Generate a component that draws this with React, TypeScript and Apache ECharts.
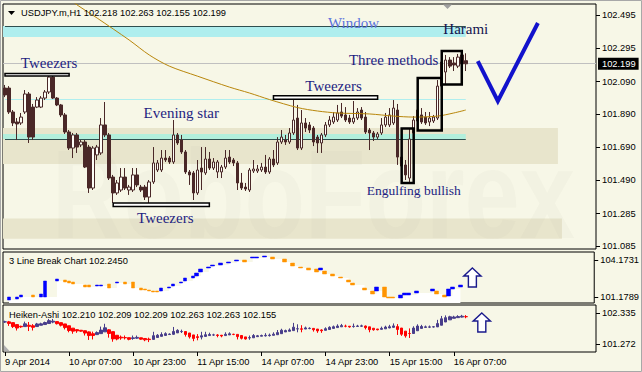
import React, { useEffect, useRef } from "react";
import * as echarts from "echarts";

const FONT = '"Liberation Sans", Arial, sans-serif';
const SERIF = '"Liberation Serif", "Times New Roman", serif';
const BG = "#f7f7e7";
const DARK = "#4a2828";

const headerMain = "USDJPY.m,H1 102.218 102.263 102.155 102.199";
const headerLB = "3 Line Break Chart 102.2450";
const headerHA = "Heiken-Ashi 102.210 102.209 102.209 102.263 102.263 102.155";

const N_SLOTS = 148;
const timeTickLabels = ["9 Apr 2014", "10 Apr 07:00", "10 Apr 23:00", "11 Apr 15:00", "14 Apr 07:00", "14 Apr 23:00", "15 Apr 15:00", "16 Apr 07:00"];
const priceTicks = [102.495, 102.295, 102.09, 101.89, 101.69, 101.49, 101.285, 101.085];
const lbTicks = [104.1731, 101.1789];
const haTicks = [102.335, 101.272];

// [open, close, low, high]
const ohlc = [
  [102.051, 102.009, 101.996, 102.07], [102.051, 101.905, 101.893, 102.063], [101.905, 101.838, 101.819, 101.917], [101.844, 101.832, 101.734, 101.868],
  [101.838, 101.874, 101.826, 101.899], [101.905, 102.015, 101.893, 102.039], [102.015, 101.752, 101.716, 102.027], [101.935, 101.752, 101.734, 101.954],
  [101.935, 101.978, 101.929, 101.996], [101.935, 101.99, 101.929, 102.002], [101.99, 102.027, 101.978, 102.039], [102.027, 102.118, 102.015, 102.131],
  [102.118, 101.99, 101.984, 102.131], [101.99, 101.948, 101.941, 101.996], [101.948, 101.887, 101.874, 101.954], [101.887, 101.783, 101.771, 101.899],
  [101.783, 101.685, 101.673, 101.795], [101.685, 101.765, 101.624, 101.777], [101.765, 101.691, 101.655, 101.777], [101.704, 101.722, 101.691, 101.734],
  [101.722, 101.569, 101.563, 101.734], [101.691, 101.441, 101.411, 101.704], [101.441, 101.685, 101.429, 101.697], [101.643, 101.691, 101.612, 101.704],
  [101.655, 101.826, 101.643, 101.868], [101.826, 101.765, 101.752, 101.966], [101.765, 101.502, 101.49, 101.777], [101.508, 101.411, 101.35, 101.521],
  [101.411, 101.472, 101.399, 101.49], [101.429, 101.508, 101.417, 101.563], [101.508, 101.441, 101.429, 101.563], [101.429, 101.447, 101.399, 101.46],
  [101.429, 101.521, 101.417, 101.563], [101.521, 101.46, 101.447, 101.563], [101.447, 101.429, 101.417, 101.46], [101.447, 101.386, 101.368, 101.46],
  [101.386, 101.478, 101.338, 101.49], [101.478, 101.594, 101.466, 101.691], [101.551, 101.594, 101.539, 101.612], [101.551, 101.624, 101.539, 101.673],
  [101.624, 101.612, 101.6, 101.673], [101.624, 101.6, 101.588, 101.636], [101.6, 101.765, 101.588, 101.856], [101.765, 101.716, 101.704, 101.777],
  [101.734, 101.661, 101.649, 101.765], [101.661, 101.539, 101.527, 101.673], [101.539, 101.521, 101.46, 101.551], [101.533, 101.411, 101.368, 101.545],
  [101.411, 101.551, 101.399, 101.612], [101.563, 101.539, 101.429, 101.691], [101.533, 101.618, 101.521, 101.691], [101.618, 101.563, 101.551, 101.661],
  [101.563, 101.6, 101.551, 101.624], [101.539, 101.6, 101.502, 101.612], [101.539, 101.569, 101.502, 101.582], [101.569, 101.624, 101.557, 101.673],
  [101.63, 101.6, 101.588, 101.673], [101.612, 101.594, 101.575, 101.624], [101.594, 101.472, 101.429, 101.606], [101.472, 101.441, 101.429, 101.533],
  [101.447, 101.435, 101.423, 101.472], [101.429, 101.551, 101.417, 101.563], [101.545, 101.557, 101.533, 101.612], [101.545, 101.557, 101.533, 101.582],
  [101.551, 101.569, 101.539, 101.594], [101.569, 101.539, 101.527, 101.643], [101.539, 101.618, 101.527, 101.63], [101.618, 101.582, 101.569, 101.673],
  [101.594, 101.722, 101.582, 101.752], [101.722, 101.752, 101.71, 101.795], [101.734, 101.722, 101.704, 101.765], [101.722, 101.777, 101.71, 101.807],
  [101.777, 101.856, 101.765, 101.996], [101.868, 101.685, 101.673, 101.948], [101.685, 101.838, 101.673, 101.917], [101.838, 101.807, 101.783, 101.868],
  [101.826, 101.795, 101.777, 101.844], [101.807, 101.722, 101.697, 101.819], [101.752, 101.716, 101.655, 101.765], [101.716, 101.765, 101.655, 101.777],
  [101.765, 101.826, 101.752, 101.844], [101.826, 101.856, 101.813, 101.88], [101.844, 101.874, 101.832, 101.905], [101.856, 101.899, 101.844, 101.948],
  [101.905, 101.88, 101.868, 101.96], [101.887, 101.856, 101.844, 101.935], [101.868, 101.844, 101.832, 101.887], [101.844, 101.868, 101.832, 101.972],
  [101.868, 101.905, 101.856, 101.929], [101.917, 101.868, 101.856, 101.935], [101.874, 101.783, 101.771, 101.905], [101.795, 101.777, 101.673, 101.807],
  [101.777, 101.752, 101.728, 101.789], [101.752, 101.771, 101.74, 101.783], [101.777, 101.826, 101.765, 101.868], [101.826, 101.874, 101.813, 101.899],
  [101.826, 101.887, 101.813, 101.929], [101.838, 101.929, 101.826, 101.978], [101.917, 101.63, 101.582, 101.954], [101.63, 101.575, 101.551, 101.673],
  [101.582, 101.521, 101.49, 101.612], [101.502, 101.74, 101.478, 101.807], [101.777, 101.856, 101.765, 101.88], [101.85, 101.917, 101.838, 101.948],
  [101.887, 101.844, 101.832, 101.929], [101.874, 101.838, 101.826, 101.905], [101.844, 101.868, 101.819, 101.905], [101.85, 101.874, 101.838, 101.887],
  [101.868, 102.063, 101.856, 102.1], [102.063, 102.21, 102.039, 102.234], [102.149, 102.222, 102.076, 102.253], [102.222, 102.185, 102.173, 102.24],
  [102.204, 102.192, 102.155, 102.24], [102.185, 102.24, 102.173, 102.259], [102.198, 102.253, 102.179, 102.271], [102.218, 102.199, 102.155, 102.263],
];

// moving average read at [bar index, price]
const maPoints = [
  [11, 102.7], [17, 102.576], [23, 102.478], [31, 102.344], [36, 102.253], [41, 102.185], [48, 102.124], [56, 102.057], [61, 102.021],
  [66, 101.981], [73, 101.932], [78, 101.911], [83, 101.899], [91, 101.893], [97, 101.88], [102, 101.874], [108, 101.88],
  [112, 101.899], [115, 101.917],
];

// 3 line break blocks: [bar index, open, close]
const lbBlocks = [
  [1, 100.937, 101.18], [3, 101.018, 101.18], [4, 101.18, 101.342], [7, 101.342, 101.18], [9, 101.18, 101.422], [10, 101.18, 102.474],
  [13, 102.474, 102.636], [15, 102.555, 102.393], [16, 102.474, 102.312], [17, 102.393, 102.231], [20, 102.151, 101.989], [21, 102.151, 101.989],
  [23, 102.07, 102.151], [24, 102.07, 102.151], [26, 102.231, 101.908], [28, 102.312, 102.393], [30, 102.393, 102.231], [32, 102.393, 101.908],
  [34, 101.908, 101.746], [35, 101.827, 101.746], [36, 101.746, 101.665], [37, 101.665, 101.584], [38, 101.665, 101.584], [39, 101.665, 101.908],
  [41, 101.908, 101.989], [42, 102.07, 102.231], [44, 102.312, 102.393], [45, 102.474, 102.717], [47, 102.717, 102.879], [48, 102.879, 103.121],
  [49, 103.202, 103.445], [51, 103.526, 103.607], [52, 103.688, 103.769], [54, 103.769, 103.93], [56, 103.93, 104.011], [58, 104.092, 104.173],
  [60, 104.173, 104.011], [62, 104.335, 104.416], [63, 104.335, 104.416], [65, 104.416, 104.497], [67, 104.416, 104.254], [70, 104.254, 104.011],
  [72, 103.93, 103.688], [74, 103.607, 103.526], [76, 103.526, 103.364], [78, 103.445, 103.202], [79, 103.364, 103.526], [80, 103.283, 103.04],
  [82, 103.04, 102.879], [84, 102.798, 102.717], [86, 102.555, 102.393], [87, 102.312, 102.151], [90, 101.908, 101.746], [92, 101.665, 101.422],
  [93, 101.665, 101.989], [95, 101.989, 101.18], [96, 101.18, 101.099], [97, 101.18, 101.099], [99, 101.099, 101.342], [100, 101.342, 101.503],
  [101, 101.342, 101.503], [103, 101.503, 101.665], [107, 101.665, 101.827], [108, 101.665, 101.422], [110, 101.342, 101.18], [111, 101.261, 101.827],
  [112, 101.827, 101.989], [114, 101.989, 102.151],
];

// horizontal zones: [kind, end bar, top price, bottom price]
const zones = [
  ["window", 115, 102.429, 102.362],
  ["support", 138, 101.807, 101.588],
  ["level", 115, 101.771, 101.74],
  ["support", 139, 101.255, 101.132],
];
// horizontal level lines: [kind, start bar, end bar, price]
const levelLines = [
  ["dark", 0, 115, 102.429],
  ["cyan", 0, 115, 101.982],
  ["dark", 0, 115, 101.74],
];
// tweezers boxes and pattern boxes: [start bar, end bar, top, bottom]
const tweezerBoxes = [
  [0, 16, 102.14, 102.124],
  [67, 93, 102.004, 101.983],
  [27, 51, 101.35, 101.328],
];
const patternBoxes = [
  [99, 102, 101.804, 101.472],
  [103, 109, 102.112, 101.792],
  [109, 114, 102.277, 102.073],
];
// text annotations: [text, bar, price]
const annotations = [
  ["Tweezers", 11, 102.204],
  ["Evening star", 44, 101.899],
  ["Tweezers", 40, 101.258],
  ["Tweezers", 82, 102.063],
  ["Window", 87, 102.448],
  ["Harami", 115, 102.411],
  ["Three methods", 97, 102.222],
  ["Engulfing bullish", 102, 101.423],
];
const checkMark = [[118, 102.216], [123, 101.972], [133, 102.448]];
const lbArrow = [117, 102.757];
const haArrow = [119, 102.009];

const zoneColor: Record<string, string> = { window: "#afeeee", support: "#e8e5cc", level: "#b2efdc" };
const lineColor: Record<string, string> = { dark: "#2f4f4f", cyan: "#afeeee" };
const textColor: Record<string, string> = { Window: "#5a73dc", Harami: "#141450" };
const textSize: Record<string, number> = { "Engulfing bullish": 13.5 };
const ARROW = "path://M8.5 0L17 8L12.5 8L12.5 19L4.5 19L4.5 8L0 8Z";

function buildOption() {
  const slots = Array.from({ length: N_SLOTS }, (_, i) => "b" + i);
  const lastClose = ohlc[ohlc.length - 1][1];

  const ha: number[][] = [];
  let pO = 0;
  let pC = 0;
  ohlc.forEach(([o, c, l, h], i) => {
    const hc = (o + c + l + h) / 4;
    const ho = i === 0 ? (o + c) / 2 : (pO + pC) / 2;
    ha.push([ho, hc, Math.min(l, ho, hc), Math.max(h, ho, hc)]);
    pO = ho;
    pC = hc;
  });

  const lbData: any[] = ohlc.map(() => "-");
  const lbWhite: any[] = ohlc.map(() => null);
  lbBlocks.forEach(([i, o, c]) => {
    lbData[i] = [o, c, Math.min(o, c), Math.max(o, c)];
    lbWhite[i] = Math.min(o, c);
  });

  const tickShown = (i: number) => i % 16 === 0 && i / 16 < timeTickLabels.length;

  const xBase = { type: "category", data: slots, boundaryGap: true };
  const yBase = (gridIndex: number, min: number, max: number, ticks: number[], digits: number) => ({
    gridIndex,
    type: "value",
    position: "right",
    min,
    max,
    splitLine: { show: false },
    axisLine: { show: false },
    axisTick: { show: true, customValues: ticks, length: 4, lineStyle: { color: "#000" } },
    axisLabel: {
      show: true,
      customValues: ticks,
      formatter: (v: number) => v.toFixed(digits),
      margin: 6,
      color: "#000",
      fontSize: 9.3,
      fontFamily: FONT,
    },
  });
  const gridBase = { left: 3, right: 46, show: true, backgroundColor: BG, borderColor: "#000", borderWidth: 1 };

  return {
    animation: false,
    backgroundColor: BG,
    grid: [
      { ...gridBase, top: 4, height: 245 },
      { ...gridBase, top: 252, height: 51 },
      { ...gridBase, top: 305, height: 47 },
    ],
    xAxis: [
      { ...xBase, gridIndex: 0, show: false },
      { ...xBase, gridIndex: 1, show: false },
      {
        ...xBase,
        gridIndex: 2,
        axisLine: { show: false },
        axisTick: { show: true, interval: tickShown, alignWithLabel: true, length: 4, lineStyle: { color: "#000" } },
        axisLabel: {
          interval: tickShown,
          formatter: (_v: string, i: number) => timeTickLabels[i / 16] ?? "",
          align: "left",
          margin: 5,
          color: "#000",
          fontSize: 9.3,
          fontFamily: FONT,
        },
      },
    ],
    yAxis: [
      yBase(0, 101.069, 102.564, priceTicks, 3),
      yBase(1, 100.694, 104.82, lbTicks, 4),
      yBase(2, 100.998, 102.609, haTicks, 3),
    ],
    series: [
      {
        type: "line",
        name: "ma",
        xAxisIndex: 0,
        yAxisIndex: 0,
        data: maPoints,
        smooth: 0.3,
        symbol: "none",
        z: 3,
        lineStyle: { color: "#b8860b", width: 1 },
        markArea: {
          silent: true,
          z: 1,
          label: { show: false },
          data: zones.map(([kind, end, top, bottom]) => [
            { yAxis: top, itemStyle: { color: zoneColor[kind as string] } },
            { xAxis: end, yAxis: bottom },
          ]),
        },
        markLine: {
          silent: true,
          z: 1.2,
          symbol: ["none", "none"],
          label: { show: false },
          data: levelLines.map(([kind, s, e, p]) => [
            { xAxis: s, yAxis: p, lineStyle: { color: lineColor[kind as string], width: 1, type: "solid" } },
            { xAxis: e, yAxis: p },
          ]),
        },
      },
      {
        type: "candlestick",
        name: "USDJPY",
        xAxisIndex: 0,
        yAxisIndex: 0,
        data: ohlc,
        barWidth: 3,
        z: 2,
        itemStyle: { color: "#fdfdf6", color0: DARK, borderColor: DARK, borderColor0: DARK, borderWidth: 1 },
        markArea: {
          silent: true,
          z: 4,
          label: { show: false },
          data: [
            ...tweezerBoxes.map(([s, e, t, b]) => [
              { xAxis: s, yAxis: t, itemStyle: { color: "#ffffff", borderColor: "#000", borderWidth: 1.5 } },
              { xAxis: e, yAxis: b },
            ]),
            ...patternBoxes.map(([s, e, t, b]) => [
              { xAxis: s, yAxis: t, itemStyle: { color: "rgba(0,0,0,0)", borderColor: "#000", borderWidth: 2.5 } },
              { xAxis: e, yAxis: b },
            ]),
          ],
        },
        markLine: {
          silent: true,
          z: 1.5,
          symbol: ["none", "none"],
          lineStyle: { color: "#c0c0c0", width: 1, type: "solid" },
          label: {
            show: true,
            position: "end",
            distance: 2,
            formatter: () => lastClose.toFixed(3),
            color: "#fff",
            backgroundColor: "#000",
            padding: [2, 3, 1, 4],
            fontSize: 9.3,
            fontFamily: FONT,
          },
          data: [{ yAxis: lastClose }],
        },
        markPoint: {
          silent: true,
          z: 5,
          data: annotations.map(([text, i, p]) => ({
            coord: [i, p],
            symbol: "rect",
            symbolSize: 1,
            itemStyle: { color: "rgba(0,0,0,0)" },
            label: {
              show: true,
              position: "inside",
              formatter: text as string,
              color: textColor[text as string] ?? "#1e1e82",
              fontSize: textSize[text as string] ?? 15,
              fontFamily: SERIF,
            },
          })),
        },
      },
      {
        type: "line",
        name: "check",
        xAxisIndex: 0,
        yAxisIndex: 0,
        data: checkMark,
        symbol: "none",
        z: 6,
        lineStyle: { color: "#1212cc", width: 4, join: "miter" },
      },
      {
        type: "line",
        name: "lbFill",
        xAxisIndex: 1,
        yAxisIndex: 1,
        data: lbWhite,
        step: "end",
        connectNulls: true,
        symbol: "none",
        z: 1,
        lineStyle: { width: 0, opacity: 0 },
        areaStyle: { color: "#ffffff", opacity: 1, origin: "start" },
      },
      {
        type: "candlestick",
        name: "3 Line Break",
        xAxisIndex: 1,
        yAxisIndex: 1,
        data: lbData,
        barWidth: 4,
        z: 2,
        itemStyle: { color: "#0000ff", color0: "#ff9400", borderColor: "#0000ff", borderColor0: "#ff9400", borderWidth: 0.5 },
        markPoint: {
          silent: true,
          data: [
            {
              coord: lbArrow,
              symbol: ARROW,
              symbolSize: [17, 19],
              itemStyle: { color: "#ffffff", borderColor: "#1a1a8c", borderWidth: 1.5 },
              label: { show: false },
            },
          ],
        },
      },
      {
        type: "candlestick",
        name: "Heiken-Ashi",
        xAxisIndex: 2,
        yAxisIndex: 2,
        data: ha,
        barWidth: 3,
        z: 2,
        itemStyle: { color: "#483d8b", color0: "#ff0000", borderColor: "#483d8b", borderColor0: "#ff0000", borderWidth: 1 },
        markPoint: {
          silent: true,
          data: [
            {
              coord: haArrow,
              symbol: ARROW,
              symbolSize: [17, 19],
              itemStyle: { color: "#ffffff", borderColor: "#1a1a8c", borderWidth: 1.5 },
              label: { show: false },
            },
          ],
        },
      },
    ],
    graphic: [
      {
        type: "text",
        x: 52,
        y: 194,
        scaleX: 0.78,
        silent: true,
        z: 1.5,
        style: {
          text: "RoboForex",
          font: 'bold 127px "Liberation Sans", Arial, sans-serif',
          fill: "rgba(170,170,150,0.06)",
          verticalAlign: "middle",
          align: "left",
        },
      },
      { type: "polygon", shape: { points: [[8, 11], [15, 11], [11.5, 15]] }, style: { fill: "#000" }, silent: true, z: 10 },
      { type: "polygon", shape: { points: [[443, 4.5], [452, 4.5], [447.5, 9]] }, style: { fill: "#a0a0a0" }, silent: true, z: 10 },
      { type: "polygon", shape: { points: [[4, 345], [4, 351.5], [10, 351.5]] }, style: { fill: "#b0b0b0" }, silent: true, z: 10 },
      {
        type: "text", x: 21, y: 13, silent: true, z: 10,
        style: { text: headerMain, font: '9.3px "Liberation Sans", Arial, sans-serif', fill: "#000", verticalAlign: "middle" },
      },
      {
        type: "text", x: 9, y: 261, silent: true, z: 10,
        style: { text: headerLB, font: '9.3px "Liberation Sans", Arial, sans-serif', fill: "#000", verticalAlign: "middle" },
      },
      {
        type: "text", x: 9, y: 314.5, silent: true, z: 10,
        style: { text: headerHA, font: '9.3px "Liberation Sans", Arial, sans-serif', fill: "#000", verticalAlign: "middle" },
      },
      {
        type: "rect", silent: true, z: 10,
        shape: { x: 0.5, y: 0.5, width: 641, height: 371 },
        style: { fill: "none", stroke: "#a8a8a8", lineWidth: 1 },
      },
    ],
  };
}

export default function App() {
  const ref = useRef<HTMLDivElement>(null);
  useEffect(() => {
    if (!ref.current) return;
    const chart = echarts.init(ref.current, null, { renderer: "svg" });
    chart.setOption(buildOption() as any);
    return () => chart.dispose();
  }, []);
  return <div ref={ref} style={{ position: "absolute", left: 0, top: 0, width: 642, height: 372 }} />;
}
